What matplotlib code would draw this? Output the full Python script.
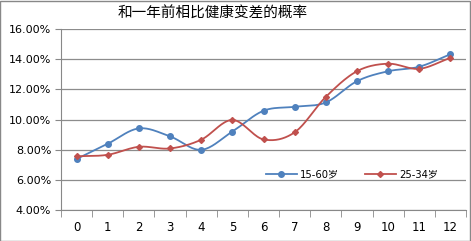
import numpy as np
import matplotlib
matplotlib.use("Agg")
import matplotlib.pyplot as plt
from matplotlib.patches import Rectangle
from matplotlib.ticker import FuncFormatter, MultipleLocator

plt.rcParams['font.family'] = ['DejaVu Sans', 'Noto Sans CJK SC']

# data
x_labels = list(range(13))
series_a = [7.38, 8.39, 9.41, 8.88, 7.99, 9.20, 10.58, 10.84, 11.13, 12.54, 13.20, 13.50, 14.33]
series_b = [7.56, 7.66, 8.19, 8.08, 8.66, 9.97, 8.68, 9.15, 11.50, 13.20, 13.70, 13.36, 14.10]
names = ["15-60岁", "25-34岁"]
colors = ["#4F81BD", "#C0504D"]
markers = ["o", "D"]


def smooth(xs, ys, n=20):
    # Catmull-Rom curve through the points, like Excel's smoothed line
    xs = np.asarray(xs, float)
    ys = np.asarray(ys, float)
    px = np.concatenate([[2 * xs[0] - xs[1]], xs, [2 * xs[-1] - xs[-2]]])
    py = np.concatenate([[2 * ys[0] - ys[1]], ys, [2 * ys[-1] - ys[-2]]])
    out_x, out_y = [], []
    t = np.linspace(0, 1, n, endpoint=False)
    for i in range(1, len(px) - 2):
        for p, out in ((px, out_x), (py, out_y)):
            p0, p1, p2, p3 = p[i - 1], p[i], p[i + 1], p[i + 2]
            out.extend(0.5 * ((2 * p1) + (-p0 + p2) * t
                              + (2 * p0 - 5 * p1 + 4 * p2 - p3) * t ** 2
                              + (-p0 + 3 * p1 - 3 * p2 + p3) * t ** 3))
    out_x.append(xs[-1])
    out_y.append(ys[-1])
    return out_x, out_y


fig = plt.figure(figsize=(4.71, 2.41), dpi=100)
ax = fig.add_axes([61 / 471, 1 - 210 / 241, 405 / 471, 181 / 241])

for ys, name, c, m in zip([series_a, series_b], names, colors, markers):
    sx, sy = smooth(x_labels, ys)
    ax.plot(sx, sy, color=c, linewidth=1.3, zorder=3)
    ax.plot(x_labels, ys, linestyle="none", marker=m, color=c,
            markersize=4 if m == "o" else 3, zorder=4)
    ax.plot([], [], color=c, marker=m, markersize=4 if m == "o" else 3,
            linewidth=1.3, label=name)

ax.set_xlim(-0.5, 12.5)
ax.set_ylim(4, 16)
ax.yaxis.set_major_locator(MultipleLocator(2))
ax.yaxis.set_major_formatter(FuncFormatter(lambda v, p: f"{v:.2f}%"))
ax.set_xticks(x_labels)
ax.set_xticklabels([str(v) for v in x_labels])
ax.set_xticks(np.arange(-0.5, 13, 1), minor=True)
ax.tick_params(axis="x", which="major", length=0, pad=8, labelsize=8.5)
ax.tick_params(axis="x", which="minor", length=5, color="#888888")
ax.tick_params(axis="y", length=4, color="#888888", labelsize=8, pad=3)

ax.grid(axis="y", color="#8c8c8c", linewidth=0.9)
ax.set_axisbelow(True)
for s in ["top", "right"]:
    ax.spines[s].set_visible(False)
for s in ["left", "bottom"]:
    ax.spines[s].set_color("#888888")

ax.legend(loc="center", bbox_to_anchor=(0.718, 0.195), ncol=2, frameon=False,
          fontsize=7.2, handlelength=3.1, columnspacing=2.6, handletextpad=0.3)

fig.text(213 / 471, 1 - 14 / 241, "和一年前相比健康变差的概率", ha="center", va="center",
         fontsize=10.5, family=["Noto Sans CJK SC", "DejaVu Sans"])

fig.patches.append(Rectangle((0.001, 0.002), 0.997, 0.995, transform=fig.transFigure,
                             fill=False, edgecolor="#888888", linewidth=1))

fig.savefig("out.png", dpi=100)
